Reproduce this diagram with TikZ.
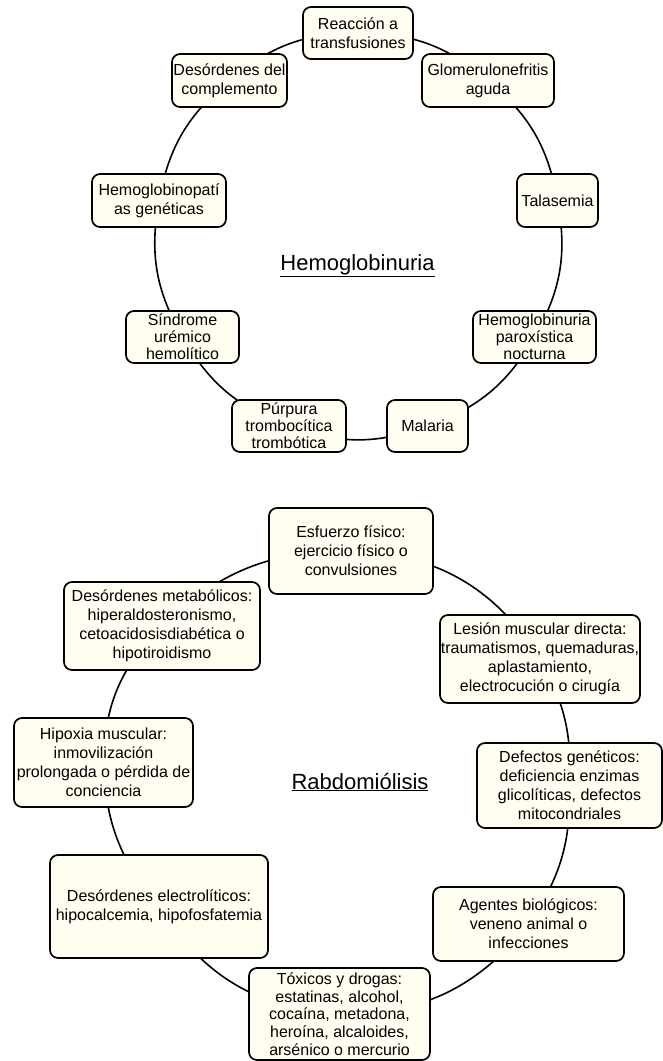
\documentclass[tikz,border=0pt]{standalone}
\usepackage{fontspec}
\setmainfont{Liberation Sans}
\usetikzlibrary{backgrounds}
\definecolor{boxfill}{RGB}{255,254,240}
\begin{document}
\begin{tikzpicture}[x=1pt,y=-1pt,
  box/.style={draw=black, line width=1.7pt, fill=boxfill, rounded corners=8pt,
    align=center, inner sep=0pt, font=\fontsize{16}{19}\selectfont},
  tight/.style={font=\fontsize{16}{17}\selectfont},
  link/.style={draw=black, line width=1.6pt},
  maintitle/.style={font=\fontsize{22}{26}\selectfont, inner sep=0pt}]
\useasboundingbox (0,0) rectangle (663,1061);

% ---------- Hemoglobinuria ----------
\node[box, minimum width=110pt, minimum height=52pt] (reac) at (358,33) {Reacción a\\transfusiones};
\node[box, minimum width=132pt, minimum height=53pt] (glom) at (488,80.5) {Glomerulonefritis\\aguda};
\node[box, minimum width=81pt, minimum height=53pt] (tal) at (557.5,200.5) {Talasemia};
\node[box, tight, minimum width=123pt, minimum height=52pt] (hpn) at (534.5,337) {Hemoglobinuria\\paroxística\\nocturna};
\node[box, minimum width=81pt, minimum height=52pt] (mal) at (427.5,426) {Malaria};
\node[box, tight, minimum width=114pt, minimum height=52pt] (pur) at (289,426) {Púrpura\\trombocítica\\trombótica};
\node[box, tight, minimum width=113pt, minimum height=52pt] (sind) at (182.5,337) {Síndrome\\urémico\\hemolítico};
\node[box, minimum width=134pt, minimum height=53pt] (hgp) at (159,200.5) {Hemoglobinopatí\\as genéticas};
\node[box, minimum width=115pt, minimum height=53pt] (comp) at (229.5,80.5) {Desórdenes del\\complemento};
\node[maintitle] (hemo) at (357.5,266) {\underline{Hemoglobinuria}};

% ---------- Rabdomiolisis ----------
\node[box, minimum width=164pt, minimum height=86pt] (esf) at (351,551) {Esfuerzo físico:\\ejercicio físico o\\convulsiones};
\node[box, minimum width=196pt, minimum height=88pt] (met) at (162,626) {Desórdenes metabólicos:\\hiperaldosteronismo,\\cetoacidosisdiabética o\\hipotiroidismo};
\node[box, minimum width=200pt, minimum height=88pt] (les) at (540,659) {Lesión muscular directa:\\traumatismos, quemaduras,\\aplastamiento,\\electrocución o cirugía};
\node[box, minimum width=179pt, minimum height=89pt] (hip) at (103.5,762.5) {Hipoxia muscular:\\inmovilización\\prolongada o pérdida de\\conciencia};
\node[box, minimum width=185pt, minimum height=85pt] (def) at (569.5,785.5) {Defectos genéticos:\\deficiencia enzimas\\glicolíticas, defectos\\mitocondriales};
\node[box, minimum width=218pt, minimum height=103pt] (ele) at (159,906.5) {Desórdenes electrolíticos:\\hipocalcemia, hipofosfatemia};
\node[box, minimum width=191pt, minimum height=74pt] (age) at (528.5,924) {Agentes biológicos:\\veneno animal o\\infecciones};
\node[box, minimum width=181pt, minimum height=92pt, font=\fontsize{16}{17.8}\selectfont] (tox) at (339.5,1014) {Tóxicos y drogas:\\estatinas, alcohol,\\cocaína, metadona,\\heroína, alcaloides,\\arsénico o mercurio};
\node[maintitle] (rabdo) at (360,782) {\underline{Rabdomiólisis}};

\begin{scope}[on background layer]
\draw[link] (reac.center) to[bend left=20] (glom.center);
\draw[link] (glom.center) to[bend left=20] (tal.center);
\draw[link] (tal.center) to[bend left=20] (hpn.center);
\draw[link] (hpn.center) to[bend left=20] (mal.center);
\draw[link] (mal.center) to[bend left=20] (pur.center);
\draw[link] (pur.center) to[bend left=20] (sind.center);
\draw[link] (sind.center) to[bend left=20] (hgp.center);
\draw[link] (hgp.center) to[bend left=20] (comp.center);
\draw[link] (comp.center) to[bend left=20] (reac.center);

\draw[link] (esf.center) to[bend left=28] (les.center);
\draw[link] (les.center) to[bend left=16] (def.center);
\draw[link] (def.center) to[bend left=18] (age.center);
\draw[link] (age.center) to[bend left=26] (tox.center);
\draw[link] (tox.center) to[bend left=27] (ele.center);
\draw[link] (ele.center) to[bend left=19] (hip.center);
\draw[link] (hip.center) to[bend left=22] (met.center);
\draw[link] (met.center) to[bend left=22] (esf.center);
\end{scope}
\end{tikzpicture}
\end{document}
